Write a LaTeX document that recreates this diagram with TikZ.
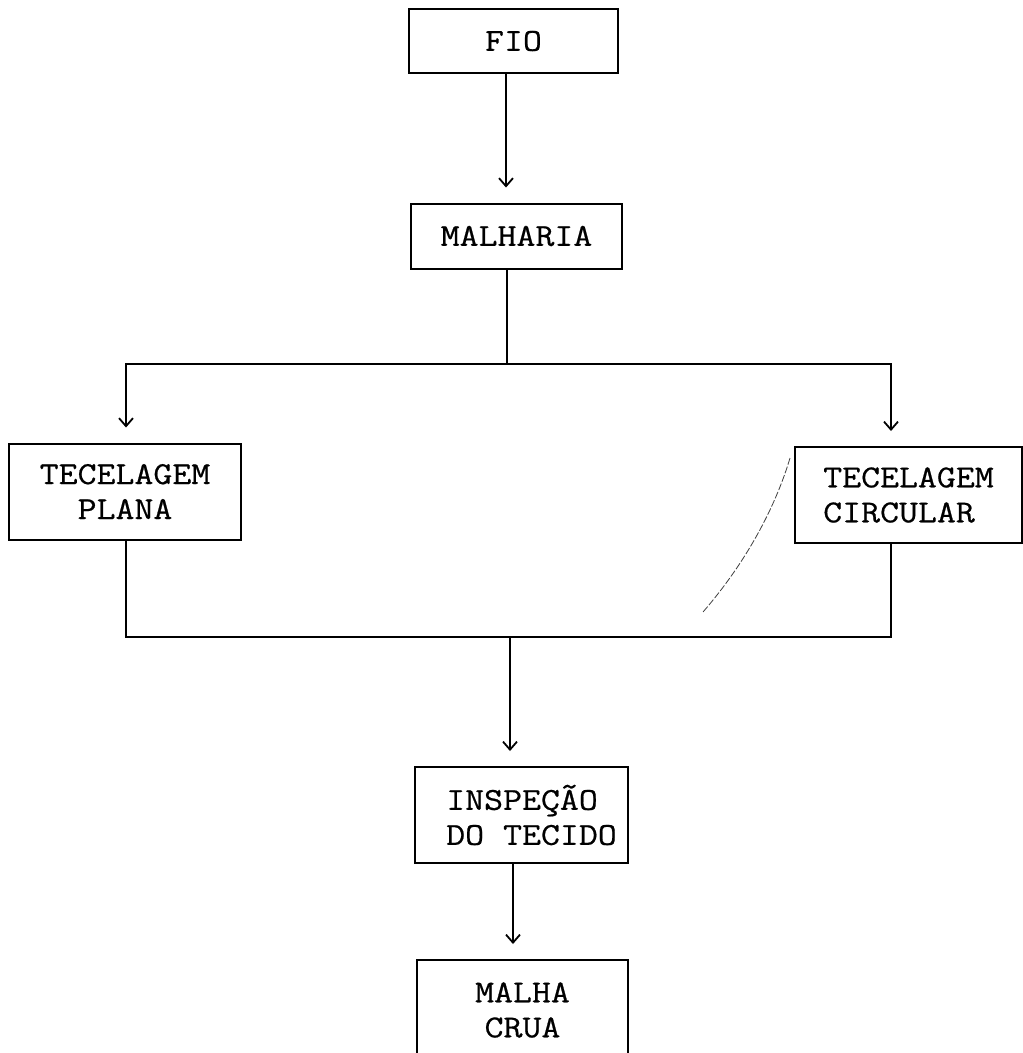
\documentclass[tikz,border=0pt]{standalone}
\usepackage{fontspec}
\newfontfamily\typew[FakeStretch=1.15,FakeBold=0.6]{Latin Modern Mono}
\usetikzlibrary{arrows.meta}
\begin{document}
\begin{tikzpicture}[x=1pt,y=-1pt,
  box/.style={draw, line width=2pt, inner sep=0pt, font=\typew\fontsize{32}{35}\selectfont},
  conn/.style={line width=1.8pt},
  arr/.style={conn, -{Straight Barb[length=8pt,width=14pt,line width=1.8pt]}, shorten >=15pt}]
\useasboundingbox (0,0) rectangle (1023,1053);
\fill[white] (0,0) rectangle (1023,1053);
% boxes
\node[box, minimum width=209pt, minimum height=64pt] (fio) at (513.5,41) {FIO};
\node[box, minimum width=211pt, minimum height=65pt] (malharia) at (516.5,236) {MALHARIA};
\node[box, minimum width=232pt, minimum height=96pt, align=center] (plana) at (125,491.5) {TECELAGEM\\PLANA};
\node[box, minimum width=227pt, minimum height=96pt, align=left] (circ) at (908.5,495) {TECELAGEM\\CIRCULAR};
\node[box, minimum width=213pt, minimum height=96pt, align=left] (insp) at (521.5,815) {\hspace*{20pt}INSPEÇÃO\\\hspace*{20pt}DO TECIDO};
\node[box, minimum width=211pt, minimum height=100pt, align=center] (malha) at (522.5,1010) {MALHA\\CRUA};
% routing coordinates
\coordinate (a) at (506,0);
\coordinate (sp) at (507,364);
\coordinate (spl) at (126,364);
\coordinate (spr) at (891,364);
\coordinate (mg) at (510,637);
\coordinate (d) at (513,0);
% connectors
\draw[arr] (fio.south -| a) -- (malharia.north -| a);
\draw[conn] (malharia.south -| sp) -- (sp);
\draw[arr] (sp) -| (plana.north -| spl);
\draw[arr] (sp) -| (circ.north -| spr);
\draw[conn] (plana.south -| spl) -- (spl |- mg) -- (spr |- mg) -- (circ.south -| spr);
\draw[arr] (mg) -- (insp.north -| mg);
\draw[arr] (insp.south -| d) -- (malha.north -| d);
% pencil stroke
\draw[line width=0.8pt, black!75, dash pattern=on 7pt off 2pt] (790,458) .. controls (776,505) and (748,560) .. (703,612);
\end{tikzpicture}
\end{document}
